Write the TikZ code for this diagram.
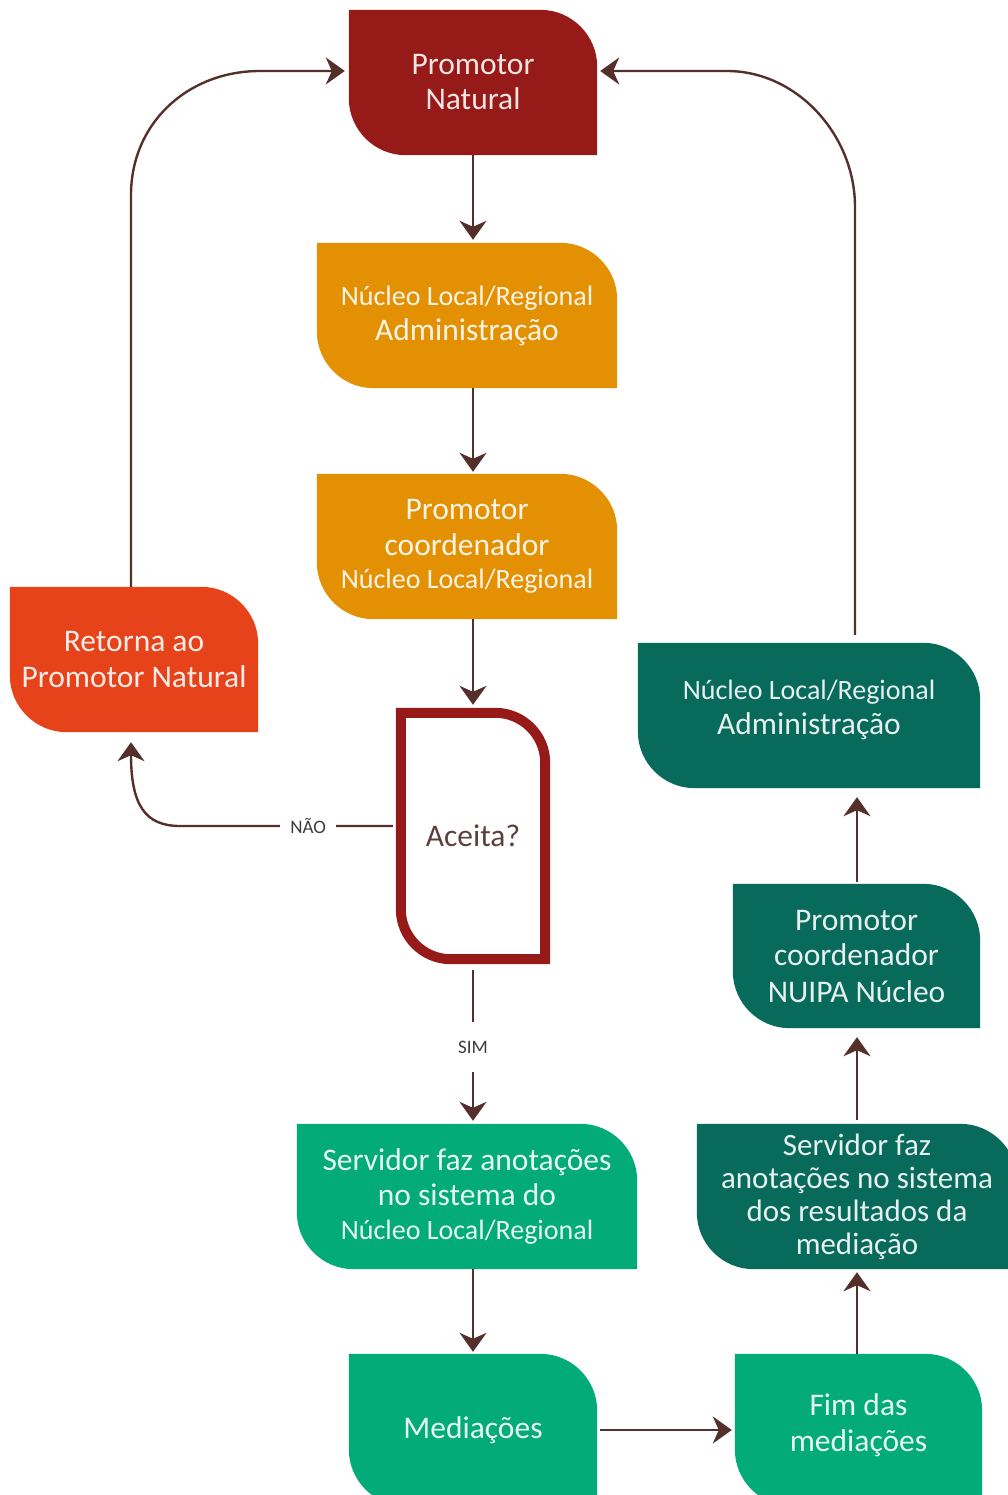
\documentclass[tikz,border=0pt]{standalone}
\usepackage{fontspec}
\setmainfont{Carlito}
\usetikzlibrary{arrows.meta,calc,backgrounds}
\definecolor{cRed}{HTML}{961A17}
\definecolor{cOrange}{HTML}{E39103}
\definecolor{cFlame}{HTML}{E6431A}
\definecolor{cGreen}{HTML}{02AB78}
\definecolor{cTeal}{HTML}{086A5B}
\definecolor{cArrow}{HTML}{55302A}
\definecolor{cAsk}{HTML}{5B413D}
\definecolor{cLbl}{HTML}{3C3C3C}
\newcommand\leafpath[2]{(#1.north west) -- ($(#1.north east)+(-#2,0)$) .. controls ($(#1.north east)+(-0.4477*#2,0)$) and ($(#1.north east)+(0,0.4477*#2)$) .. ($(#1.north east)+(0,#2)$) -- (#1.south east) -- ($(#1.south west)+(#2,0)$) .. controls ($(#1.south west)+(0.4477*#2,0)$) and ($(#1.south west)+(0,-0.4477*#2)$) .. ($(#1.south west)+(0,-#2)$) -- cycle}
\newcommand\smallline[1]{{\fontsize{28}{36}\selectfont #1}}
\begin{document}
\begin{tikzpicture}[x=1pt,y=-1pt,
  box/.style={inner sep=0pt, align=center, font=\fontsize{31.5}{36}\selectfont},
  arr/.style={draw=cArrow, line width=2.4pt, -{Stealth[length=19pt,width=27pt,inset=6pt]}},
  lbl/.style={fill=white, text=cLbl, font=\fontsize{19}{22}\selectfont, inner xsep=10pt, inner ysep=2pt}]
\useasboundingbox (0,0) rectangle (1008,1495);
\clip (0,0) rectangle (1008,1495);

\node[box, minimum width=248, minimum height=145, text=white!88!cRed] (pn) at (473,82.5) {Promotor\\[-1pt]Natural};
\node[box, minimum width=300, minimum height=145, text=white!90!cOrange] (adm1) at (467,315.5) {\smallline{Núcleo Local/Regional}\\[-1pt]Administração};
\node[box, minimum width=300, minimum height=145, text=white!90!cOrange] (coord1) at (467,546.5) {Promotor\\coordenador\\[-3pt]\smallline{Núcleo Local/Regional}};
\node[box, minimum width=144, minimum height=246, text=cAsk] (acc) at (473,836) {Aceita?};
\node[box, minimum width=248, minimum height=145, text=white!90!cFlame] (ret) at (134,659.5) {Retorna ao\\Promotor Natural};
\node[box, minimum width=340, minimum height=145, text=white!90!cGreen] (serv1) at (467,1196.5) {Servidor faz anotações\\[-1pt]no sistema do\\[-2pt]\smallline{Núcleo Local/Regional}};
\node[box, minimum width=248, minimum height=152, text=white!90!cGreen] (med) at (473,1430) {Mediações};
\node[box, minimum width=247, minimum height=152, text=white!90!cGreen] (fim) at (858.5,1430) {Fim das\\mediações\\[-22pt]\mbox{}};
\node[box, minimum width=320, minimum height=145, text=white!90!cTeal, font=\fontsize{31}{33}\selectfont] (serv2) at (857,1196.5) {Servidor faz\\anotações no sistema\\dos resultados da\\mediação};
\node[box, minimum width=247, minimum height=144, text=white!90!cTeal] (nuipa) at (856.5,956) {Promotor\\coordenador\\NUIPA Núcleo};
\node[box, minimum width=342, minimum height=145, text=white!90!cTeal] (adm2) at (809,715.5) {\smallline{Núcleo Local/Regional}\\[-1pt]Administração\\[-20pt]\mbox{}};

\begin{scope}[on background layer]
  \fill[cRed] \leafpath{pn}{57};
  \fill[cOrange] \leafpath{adm1}{57};
  \fill[cOrange] \leafpath{coord1}{57};
  \fill[cFlame] \leafpath{ret}{57};
  \fill[cGreen] \leafpath{serv1}{57};
  \fill[cGreen] \leafpath{med}{57};
  \fill[cGreen] \leafpath{fim}{57};
  \fill[cTeal] \leafpath{serv2}{57};
  \fill[cTeal] \leafpath{nuipa}{57};
  \fill[cTeal] \leafpath{adm2}{57};
  \draw[cRed, line width=10pt] \leafpath{acc}{50};
\end{scope}

% vertical chain in the middle
\draw[arr, shorten >=3pt] (pn.south) -- (pn.south |- adm1.north);
\draw[arr, shorten >=2pt] (pn.south |- adm1.south) -- (pn.south |- coord1.north);
\draw[arr, shorten >=8pt] (pn.south |- coord1.south) -- (acc.north);
\draw[arr, shorten <=11pt, shorten >=3pt] (acc.south) -- node[lbl, pos=0.535, minimum height=50pt]{SIM} (acc.south |- serv1.north);
\draw[arr, shorten >=2pt] (med.north |- serv1.south) -- (med.north);
\draw[arr, shorten <=3pt, shorten >=3pt] (med.east) -- (fim.west);

% right chain going up
\draw[arr, shorten >=3pt] (fim.north -| serv2.south) -- (serv2.south);
\draw[arr, shorten <=4pt, shorten >=9pt] (serv2.north) -- (serv2.north |- nuipa.south);
\draw[arr, shorten <=2pt, shorten >=9pt] (serv2.north |- nuipa.north) -- (serv2.north |- adm2.south);

% NAO branch
\coordinate (nbend) at (180,826);
\draw[arr, shorten <=8pt, shorten >=10pt] (acc.west |- nbend) -- node[lbl, pos=0.42]{NÃO} (nbend) .. controls (145,826) and (131,805) .. ($(ret.south)+(-3,0)$);

% return loops to Promotor Natural
\coordinate (lbend) at (131,195);
\coordinate (rbend) at (855,207);
\draw[arr, shorten >=4pt] ($(ret.north)+(-3,0)$) -- (lbend) .. controls (131,123) and (188,71) .. (260,71) -- (pn.west |- 0,71);
\draw[arr, shorten <=8pt, shorten >=3pt] (adm2.north -| rbend) -- (rbend) .. controls (855,135) and (797,71) .. (727,71) -- (pn.east |- 0,71);
\end{tikzpicture}
\end{document}
